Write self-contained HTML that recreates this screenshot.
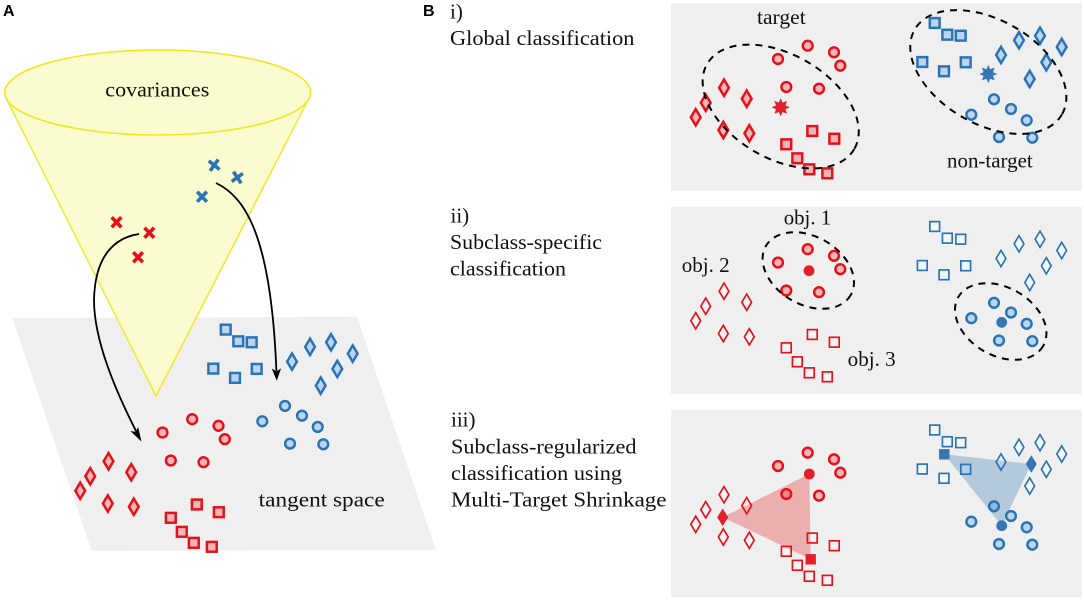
<!DOCTYPE html>
<html><head><meta charset="utf-8">
<style>
html,body{margin:0;padding:0;background:#fff;width:1084px;height:600px;overflow:hidden}
svg{display:block}
text{font-family:"Liberation Serif",serif;font-size:21px;fill:#111}
text.h{font-family:"Liberation Sans",sans-serif;font-weight:bold;font-size:16px;fill:#000}
</style></head><body>
<svg width="1084" height="600" viewBox="0 0 1084 600" xmlns="http://www.w3.org/2000/svg">
<defs>
<g id="c"><circle r="6.9" fill="#fff" stroke="none" opacity=".6"/><circle r="4.9"/></g>
<g id="d"><path d="M0,-9.6L5.8,0L0,9.6L-5.8,0Z" fill="none" stroke="#fff" stroke-width="1.6" opacity=".6"/><path d="M0,-8.2L4.9,0L0,8.2L-4.9,0Z"/></g>
<g id="s"><rect x="-6.4" y="-6.4" width="12.8" height="12.8" fill="#fff" stroke="none" opacity=".6"/><rect x="-4.9" y="-4.9" width="9.8" height="9.8"/></g>
<g id="RC"><use href="#c" x="807.7" y="45.7"/><use href="#c" x="834" y="52.3"/><use href="#c" x="840.3" y="65.7"/><use href="#c" x="778" y="59"/><use href="#c" x="786.3" y="87"/><use href="#c" x="819" y="88.7"/></g>
<g id="RD"><use href="#d" x="724" y="87.7"/><use href="#d" x="705.7" y="102.7"/><use href="#d" x="695.7" y="117.3"/><use href="#d" x="746.7" y="98.7"/><use href="#d" x="723.3" y="130"/><use href="#d" x="749.3" y="133.3"/></g>
<g id="RS"><use href="#s" x="812.3" y="131"/><use href="#s" x="834.3" y="138.7"/><use href="#s" x="786.3" y="144.3"/><use href="#s" x="797.3" y="158.3"/><use href="#s" x="809.3" y="169.3"/><use href="#s" x="827.3" y="173.3"/></g>
<g id="BC"><use href="#c" x="994" y="99.3"/><use href="#c" x="1011" y="109"/><use href="#c" x="1026.7" y="120.3"/><use href="#c" x="971.3" y="114.7"/><use href="#c" x="999" y="137"/><use href="#c" x="1032.3" y="137.7"/></g>
<g id="BD"><use href="#d" x="1001" y="55"/><use href="#d" x="1019" y="40.3"/><use href="#d" x="1040" y="35.7"/><use href="#d" x="1061.7" y="47"/><use href="#d" x="1046.3" y="62.3"/><use href="#d" x="1029.7" y="79"/></g>
<g id="BS"><use href="#s" x="934.7" y="23"/><use href="#s" x="947.3" y="34.7"/><use href="#s" x="960.7" y="35.7"/><use href="#s" x="922.3" y="62"/><use href="#s" x="944" y="71.3"/><use href="#s" x="965.7" y="62.3"/></g>
<polygon id="star" points="0,-9 1.9,-4.7 6.4,-6.4 4.7,-1.9 9,0 4.7,1.9 6.4,6.4 1.9,4.7 0,9 -1.9,4.7 -6.4,6.4 -4.7,1.9 -9,0 -4.7,-1.9 -6.4,-6.4 -1.9,-4.7"/>
<path id="xr" d="M-4.8,-5L4.8,5M4.8,-5L-4.8,5" fill="none" stroke-width="3.6"/>
</defs>

<!-- Panel A -->
<polygon points="12.3,318 357,317 436,550 91.7,551" fill="#efefef"/>
<path d="M8,102L156,396L307,102Z" fill="#fbfbd0" stroke="#efe81e" stroke-width="1.4" stroke-linejoin="round"/>
<ellipse cx="157.7" cy="92.5" rx="153" ry="42.5" fill="#fbfbd0" stroke="#efe81e" stroke-width="1.6"/>

<g transform="translate(-615.5,373.5)" stroke="#e2121a" fill="#f4b4b8" stroke-width="2.5"><use href="#RC"/><use href="#RD"/><use href="#RS"/></g>
<g transform="translate(-709,306.6)" stroke="#2a74b4" fill="#bcd5ec" stroke-width="2.5"><use href="#BC"/><use href="#BD"/><use href="#BS"/></g>

<g stroke="#e2121a"><use href="#xr" x="116.5" y="222.3"/><use href="#xr" x="149.3" y="232.8"/><use href="#xr" x="138" y="257.3"/></g>
<g stroke="#2a74b4" transform="translate(214.2,165.2) rotate(-8)"><use href="#xr"/></g>
<g stroke="#2a74b4" transform="translate(237.3,177.5) rotate(10)"><use href="#xr"/></g>
<g stroke="#2a74b4"><use href="#xr" x="202" y="196.7"/></g>

<g fill="none" stroke="#000" stroke-width="1.8">
<path d="M139,234C118,237 95,252 94,300C94,340 115,390 138,435"/>
<path d="M216,183C245,197 271,235 276.4,371"/>
</g>
<path d="M140.7,440.3L131.7,431.7L136,432.3L138,428.3Z" fill="#000" stroke="#000" stroke-width=".9"/>
<path d="M276.7,379.5L272.7,369.5L276.5,372L280.2,369.5Z" fill="#000" stroke="#000" stroke-width=".9"/>

<text x="105.3" y="96.7" textLength="104" lengthAdjust="spacingAndGlyphs">covariances</text>
<text x="258.7" y="506.7" textLength="126" lengthAdjust="spacingAndGlyphs">tangent space</text>
<text class="h" x="3" y="16">A</text>
<text class="h" x="423" y="16">B</text>

<!-- Left labels -->
<text x="450" y="18.5">i)</text>
<text x="450" y="45" textLength="184.5" lengthAdjust="spacingAndGlyphs">Global classification</text>
<text x="450.5" y="222.5">ii)</text>
<text x="450" y="249" textLength="152" lengthAdjust="spacingAndGlyphs">Subclass-specific</text>
<text x="450" y="275.3" textLength="116" lengthAdjust="spacingAndGlyphs">classification</text>
<text x="451" y="426.7">iii)</text>
<text x="451" y="453.3" textLength="185.5" lengthAdjust="spacingAndGlyphs">Subclass-regularized</text>
<text x="451" y="480" textLength="171" lengthAdjust="spacingAndGlyphs">classification using</text>
<text x="451" y="506.7" textLength="215.5" lengthAdjust="spacingAndGlyphs">Multi-Target Shrinkage</text>

<!-- Panel i -->
<rect x="671" y="3.3" width="410.7" height="187.4" fill="#efefef"/>
<g stroke="#e2121a" fill="#f4b4b8" stroke-width="2.5"><use href="#RC"/><use href="#RD"/><use href="#RS"/></g>
<g stroke="#2a74b4" fill="#bcd5ec" stroke-width="2.5"><use href="#BC"/><use href="#BD"/><use href="#BS"/></g>
<use href="#star" x="780.7" y="107.3" fill="#e0212a"/>
<use href="#star" x="988.3" y="74" fill="#3577b3"/>
<g fill="none" stroke="#000" stroke-width="2" stroke-dasharray="7 6">
<ellipse cx="780.7" cy="106.5" rx="85" ry="52" transform="rotate(30 780.7 106.5)"/>
<ellipse cx="988.3" cy="72" rx="85" ry="52" transform="rotate(30 988.3 72)"/>
</g>
<text x="757" y="24" textLength="48.7" lengthAdjust="spacingAndGlyphs">target</text>
<text x="947" y="167.7" textLength="85.7" lengthAdjust="spacingAndGlyphs">non-target</text>

<!-- Panel ii -->
<rect x="671" y="206.7" width="410.7" height="187.3" fill="#efefef"/>
<g transform="translate(0,203.5)">
<g stroke="#e2121a" fill="#f4b4b8" stroke-width="2.5"><use href="#RC"/></g>
<g stroke="#e2121a" fill="#f5f3f3" stroke-width="1.7"><use href="#RD"/><use href="#RS"/></g>
<g stroke="#2a74b4" fill="#bcd5ec" stroke-width="2.5"><use href="#BC"/></g>
<g stroke="#2a74b4" fill="#f4f5f6" stroke-width="1.7"><use href="#BD"/><use href="#BS"/></g>
</g>
<circle cx="809" cy="270.7" r="5.4" fill="#e0212a"/>
<circle cx="1001.7" cy="322.3" r="5.4" fill="#3577b3"/>
<g fill="none" stroke="#000" stroke-width="2" stroke-dasharray="7 6">
<ellipse cx="808.3" cy="270.5" rx="49" ry="34" transform="rotate(30 808.3 270.5)"/>
<ellipse cx="1000.7" cy="321.5" rx="49" ry="34" transform="rotate(30 1000.7 321.5)"/>
</g>
<text x="783.7" y="224.3" textLength="47.5" lengthAdjust="spacingAndGlyphs">obj. 1</text>
<text x="681.7" y="272" textLength="48" lengthAdjust="spacingAndGlyphs">obj. 2</text>
<text x="847.7" y="366" textLength="48" lengthAdjust="spacingAndGlyphs">obj. 3</text>

<!-- Panel iii -->
<rect x="671" y="410" width="410.7" height="187.3" fill="#efefef"/>
<g transform="translate(0,407)">
<g stroke="#e2121a" fill="#f4b4b8" stroke-width="2.5"><use href="#RC"/></g>
<g stroke="#e2121a" fill="#f5f3f3" stroke-width="1.7"><use href="#RD"/><use href="#RS"/></g>
<g stroke="#2a74b4" fill="#bcd5ec" stroke-width="2.5"><use href="#BC"/></g>
<g stroke="#2a74b4" fill="#f4f5f6" stroke-width="1.7"><use href="#BD"/><use href="#BS"/></g>
</g>
<polygon points="809.3,474 722.7,517.3 810.7,559.3" fill="#e01a1e" opacity=".3"/>
<polygon points="944.3,454.3 1031.3,464 1001.7,525.7" fill="#2a6fb0" opacity=".3"/>
<circle cx="809.3" cy="474" r="5.4" fill="#e0212a"/>
<path d="M722.7,508.5L728.2,517.3L722.7,526.1L717.2,517.3Z" fill="#e0212a"/>
<rect x="805.5" y="554.1" width="10.4" height="10.4" fill="#e0212a"/>
<circle cx="1001.7" cy="525.7" r="5.4" fill="#3577b3"/>
<path d="M1031.3,455.2L1036.8,464L1031.3,472.8L1025.8,464Z" fill="#3577b3"/>
<rect x="939.1" y="449.1" width="10.4" height="10.4" fill="#3577b3"/>
</svg>
</body></html>
